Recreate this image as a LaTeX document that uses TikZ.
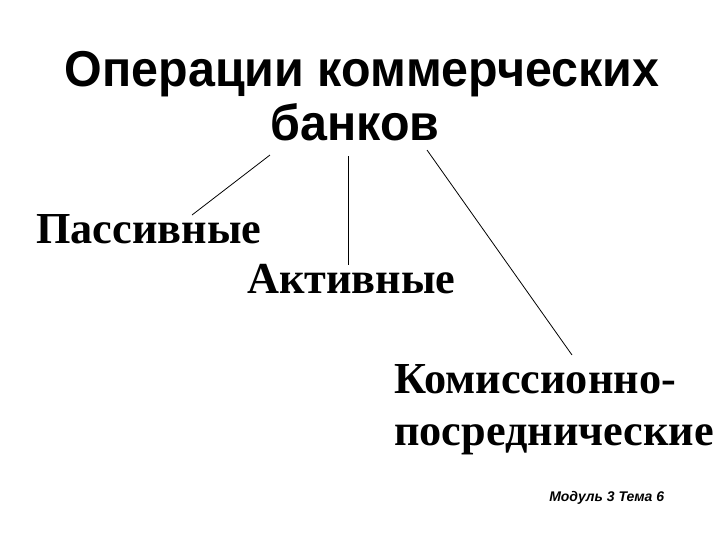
\documentclass[tikz,border=0pt]{standalone}
\usepackage{fontspec}
\setmainfont{Liberation Serif}
\newfontfamily\titlefont[FakeStretch=0.96]{Liberation Sans}
\newfontfamily\notefont{Liberation Sans}
\begin{document}
\begin{tikzpicture}[x=0.75pt,y=-0.75pt,
  title/.style={inner sep=0pt,font=\titlefont\bfseries\fontsize{37.8pt}{44pt}\selectfont},
  kind/.style={inner sep=0pt,font=\bfseries\fontsize{33.2pt}{40pt}\selectfont},
  note/.style={inner sep=0pt,font=\notefont\bfseries\itshape\fontsize{10.5pt}{12pt}\selectfont},
  link/.style={draw=black,line width=0.6pt}]
\useasboundingbox (0,0) rectangle (720,540);
\node[title,anchor=base] (t1) at (362,86) {Операции коммерческих};
\node[title,anchor=base] (t2) at (355,140) {банков};
\node[kind,anchor=base west] (pas) at (36,243) {Пассивные};
\node[kind,anchor=base west] (akt) at (247,293) {Активные};
\node[kind,anchor=base west] (kom1) at (394,393) {Комиссионно-};
\node[kind,anchor=base west] (kom2) at (394,445) {посреднические};
\node[note,anchor=base west] (mod) at (549,501) {Модуль 3 Тема 6};
\coordinate (a1) at (270,155);
\coordinate (a2) at (192,215);
\coordinate (b1) at (348,156);
\coordinate (b2) at (348,265);
\coordinate (c1) at (427,150);
\coordinate (c2) at (572,355);
\draw[link] (a1) -- (a2);
\draw[link] (b1) -- (b2);
\draw[link] (c1) -- (c2);
\end{tikzpicture}
\end{document}
